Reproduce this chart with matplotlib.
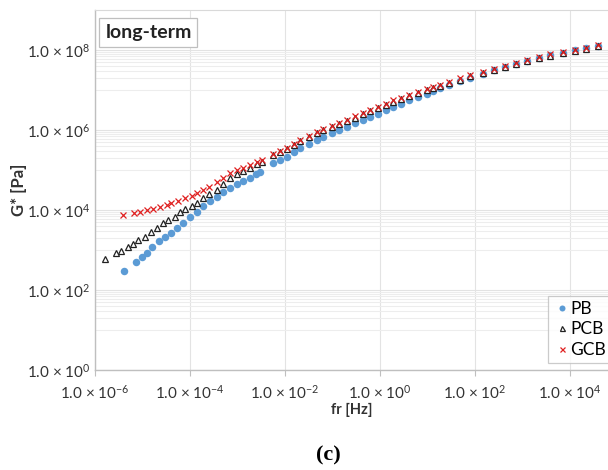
import numpy as np
import matplotlib
matplotlib.use("Agg")
import matplotlib.pyplot as plt
from matplotlib.ticker import FixedLocator, FuncFormatter

plt.rcParams['font.family'] = ['Lato', 'DejaVu Sans']
plt.rcParams['mathtext.fontset'] = 'custom'
plt.rcParams['mathtext.rm'] = 'Lato'
plt.rcParams['mathtext.it'] = 'Lato:italic'
plt.rcParams['mathtext.bf'] = 'Lato:bold'

# log10 of reduced frequency [Hz] and log10 of G* [Pa]
pb_logf = [-5.39, -5.14, -5.02, -4.90, -4.79, -4.65, -4.53, -4.39, -4.28, -4.14,
           -4.00, -3.86, -3.72, -3.58, -3.44, -3.30, -3.16, -3.02, -2.88, -2.74,
           -2.62, -2.53,
           -2.25, -2.10, -1.96, -1.82, -1.68, -1.50, -1.33, -1.19, -1.02, -0.86,
           -0.70, -0.52, -0.36, -0.21, -0.05, 0.12, 0.28, 0.45, 0.62, 0.80,
           0.98, 1.12, 1.26, 1.45, 1.68, 1.90, 2.17, 2.40, 2.63, 2.86,
           3.09, 3.35, 3.58, 3.86, 4.11, 4.34, 4.58]
pb_logg = [2.48, 2.71, 2.83, 2.93, 3.07, 3.23, 3.32, 3.43, 3.54, 3.68,
           3.83, 3.96, 4.09, 4.23, 4.33, 4.44, 4.55, 4.64, 4.73, 4.81,
           4.89, 4.96,
           5.17, 5.25, 5.33, 5.44, 5.54, 5.64, 5.74, 5.83, 5.92, 6.00,
           6.08, 6.17, 6.25, 6.33, 6.41, 6.50, 6.58, 6.66, 6.74, 6.82,
           6.90, 6.97, 7.04, 7.12, 7.22, 7.31, 7.41, 7.49, 7.57, 7.65,
           7.72, 7.80, 7.87, 7.93, 7.99, 8.04, 8.10]

pcb_logf = [-5.80, -5.56, -5.45, -5.30, -5.19, -5.09, -4.95, -4.82, -4.70, -4.56,
            -4.46, -4.32, -4.21, -4.10, -3.96, -3.85, -3.72, -3.60, -3.44, -3.30,
            -3.16, -3.02, -2.88, -2.74, -2.60, -2.49,
            -2.25, -2.10, -1.96, -1.82, -1.68, -1.50, -1.33, -1.19, -1.02, -0.86,
            -0.70, -0.52, -0.36, -0.21, -0.05, 0.12, 0.28, 0.45, 0.62, 0.80,
            0.98, 1.12, 1.26, 1.45, 1.68, 1.90, 2.17, 2.40, 2.63, 2.86,
            3.09, 3.35, 3.58, 3.86, 4.11, 4.34, 4.58]
pcb_logg = [2.77, 2.92, 2.98, 3.07, 3.15, 3.25, 3.33, 3.46, 3.54, 3.67,
            3.75, 3.83, 3.95, 4.02, 4.10, 4.18, 4.29, 4.39, 4.51, 4.65,
            4.79, 4.89, 4.98, 5.06, 5.14, 5.21,
            5.37, 5.44, 5.52, 5.62, 5.72, 5.82, 5.92, 6.00, 6.07, 6.14,
            6.22, 6.31, 6.39, 6.47, 6.55, 6.63, 6.71, 6.78, 6.85, 6.92,
            6.99, 7.05, 7.10, 7.17, 7.26, 7.34, 7.43, 7.50, 7.58, 7.65,
            7.72, 7.79, 7.86, 7.92, 7.98, 8.03, 8.09]

gcb_logf = [-5.42, -5.17, -5.05, -4.91, -4.77, -4.63, -4.49, -4.39, -4.25, -4.11,
            -3.96, -3.85, -3.72, -3.60, -3.44, -3.30, -3.16, -3.02, -2.88, -2.74,
            -2.60, -2.49,
            -2.25, -2.10, -1.96, -1.82, -1.68, -1.50, -1.33, -1.19, -1.02, -0.86,
            -0.70, -0.52, -0.36, -0.21, -0.05, 0.12, 0.28, 0.45, 0.62, 0.80,
            0.98, 1.12, 1.26, 1.45, 1.68, 1.90, 2.17, 2.40, 2.63, 2.86,
            3.09, 3.35, 3.58, 3.86, 4.11, 4.34, 4.58]
gcb_logg = [3.88, 3.93, 3.96, 4.00, 4.02, 4.07, 4.12, 4.17, 4.22, 4.29,
            4.36, 4.43, 4.50, 4.58, 4.70, 4.81, 4.92, 4.99, 5.06, 5.12,
            5.19, 5.25,
            5.40, 5.47, 5.55, 5.65, 5.75, 5.85, 5.95, 6.03, 6.10, 6.17,
            6.25, 6.34, 6.42, 6.50, 6.58, 6.66, 6.74, 6.81, 6.88, 6.95,
            7.02, 7.08, 7.13, 7.20, 7.29, 7.37, 7.46, 7.53, 7.61, 7.68,
            7.75, 7.82, 7.89, 7.95, 8.01, 8.06, 8.12]

x_ticks = [1e-6, 1e-4, 1e-2, 1e0, 1e2, 1e4]
y_ticks = [1e0, 1e2, 1e4, 1e6, 1e8]


def sci_label(v, pos=None):
    e = int(round(np.log10(v)))
    return r"1.0 × 10$^{%d}$" % e


fig = plt.figure(figsize=(6.08, 4.70), dpi=100)
ax = fig.add_axes([95 / 608, 1 - 370 / 470, 1 - 95 / 608, 360 / 470])

ax.plot(np.power(10.0, pb_logf), np.power(10.0, pb_logg), ls='none', marker='o',
        ms=5.4, mfc='#5b9bd5', mec='#5b9bd5', mew=0, label='PB', zorder=3)
ax.plot(np.power(10.0, pcb_logf), np.power(10.0, pcb_logg), ls='none', marker='^',
        ms=4.5, mfc='white', mec='#222222', mew=0.9, label='PCB', zorder=4)
ax.plot(np.power(10.0, gcb_logf), np.power(10.0, gcb_logg), ls='none', marker='x',
        ms=4.5, mec='#e02020', mew=0.9, label='GCB', zorder=5)

ax.set_xscale('log')
ax.set_yscale('log')
ax.set_xlim(1e-6, 10 ** 4.8)
ax.set_ylim(1e0, 1e9)

ax.xaxis.set_major_locator(FixedLocator(x_ticks))
ax.yaxis.set_major_locator(FixedLocator(y_ticks))
ax.xaxis.set_minor_locator(FixedLocator([]))
ax.yaxis.set_minor_locator(FixedLocator(
    [n * 10.0 ** k for k in (1, 3, 5, 7) for n in range(1, 10)]))
ax.xaxis.set_major_formatter(FuncFormatter(sci_label))
ax.yaxis.set_major_formatter(FuncFormatter(sci_label))
ax.yaxis.set_minor_formatter(FuncFormatter(lambda v, p: ""))

ax.tick_params(axis='x', which='major', length=4, color='#bfbfbf', labelsize=11,
               pad=6, labelcolor='#333333')
ax.tick_params(axis='y', which='major', length=0, labelsize=11, pad=3,
               labelcolor='#333333')
ax.tick_params(axis='y', which='minor', length=0)

ax.grid(True, which='major', color='#e3e3e3', lw=0.8)
ax.grid(True, which='minor', axis='y', color='#ededed', lw=0.8)
ax.set_axisbelow(True)

for side in ('left', 'bottom'):
    ax.spines[side].set_color('#bfbfbf')
    ax.spines[side].set_linewidth(1.0)
ax.spines['top'].set_color('#d9d9d9')
ax.spines['right'].set_visible(False)

ax.set_xlabel('fr [Hz]', fontsize=10.5, fontweight='bold', labelpad=1, color='#333333')
ax.set_ylabel('G* [Pa]', fontsize=12, fontweight='bold', labelpad=0, color='#333333')

ax.text(0.02, 0.962, 'long-term', transform=ax.transAxes, fontsize=14,
        fontweight='bold', va='top', ha='left', color='#222222',
        bbox=dict(boxstyle='square,pad=0.3', fc='white', ec='#bfbfbf', lw=0.9))

leg = ax.legend(loc='lower left', bbox_to_anchor=(0.883, 0.02), fontsize=12.5,
                frameon=True, fancybox=False, edgecolor='#bfbfbf',
                handletextpad=0.0, handlelength=1.0, borderpad=0.3,
                labelspacing=0.25, borderaxespad=0, markerscale=0.8)
leg.get_frame().set_linewidth(0.9)

fig.text(328 / 608, 1 - 455 / 470, '(c)', fontsize=16, fontweight='bold',
         family=['Liberation Serif', 'DejaVu Serif'], ha='center', va='center')

fig.savefig('out.png', dpi=100)
